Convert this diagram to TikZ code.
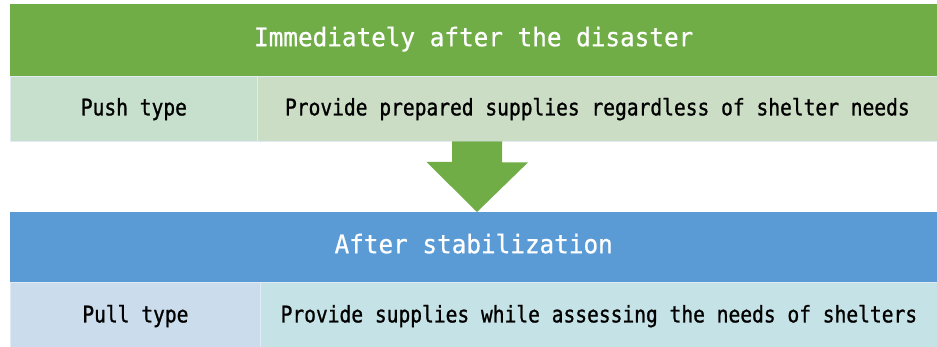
\documentclass[tikz,border=0pt]{standalone}
\usepackage{fontspec}
\newfontfamily\titlefont[FakeStretch=0.95,FakeBold=0.7]{DejaVu Sans Mono}
\newfontfamily\bodyfont[FakeStretch=0.855,FakeBold=1.0]{DejaVu Sans Mono}
\definecolor{hgreen}{HTML}{70AD47}
\definecolor{hblue}{HTML}{5B9BD5}
\definecolor{pushL}{HTML}{C6E0CD}
\definecolor{pushR}{HTML}{CBDDC4}
\definecolor{pullL}{HTML}{CBDCEC}
\definecolor{pullR}{HTML}{C5E3E6}
\definecolor{cellline}{HTML}{E2EBF3}
\tikzset{
  header/.style={anchor=north west, inner sep=0pt, minimum width=927pt, minimum height=72pt,
    text=white, font=\titlefont\fontsize{25.6}{30}\selectfont, text height=12pt, text depth=0pt},
  cell/.style={anchor=north west, inner sep=0pt, minimum height=65pt, draw=cellline, line width=0.8pt,
    text=black, font=\bodyfont\fontsize{22.9}{27}\selectfont, text height=13pt, text depth=0pt},
  blockarrow/.style={fill=hgreen, draw=none}
}
\begin{document}
\begin{tikzpicture}[x=1pt,y=-1pt]
\useasboundingbox (0,0) rectangle (937,347);
\node[header, fill=hgreen] (h1) at (10,4) {Immediately after the disaster};
\node[cell, fill=pushL, minimum width=247pt] (push) at (10,76) {Push type};
\node[cell, fill=pushR, minimum width=680pt] (pushd) at (257,76) {Provide prepared supplies regardless of shelter needs};
\node[header, fill=hblue, minimum height=70pt] (h2) at (10,212) {After stabilization};
\node[cell, fill=pullL, minimum width=250pt, minimum height=67pt] (pull) at (10,282) {Pull type};
\node[cell, fill=pullR, minimum width=677pt, minimum height=67pt] (pulld) at (260,282) {Provide supplies while assessing the needs of shelters};
\coordinate (atop) at (477,141.4);
\coordinate (atip) at (477,212);
\fill[blockarrow] (atop) ++(-25,0) -- ++(50,0) -- ++(0,21) -- ++(26,0) -- (atip) -- ++(-50.5,-50) -- ++(25.5,0) -- cycle;
\end{tikzpicture}
\end{document}
